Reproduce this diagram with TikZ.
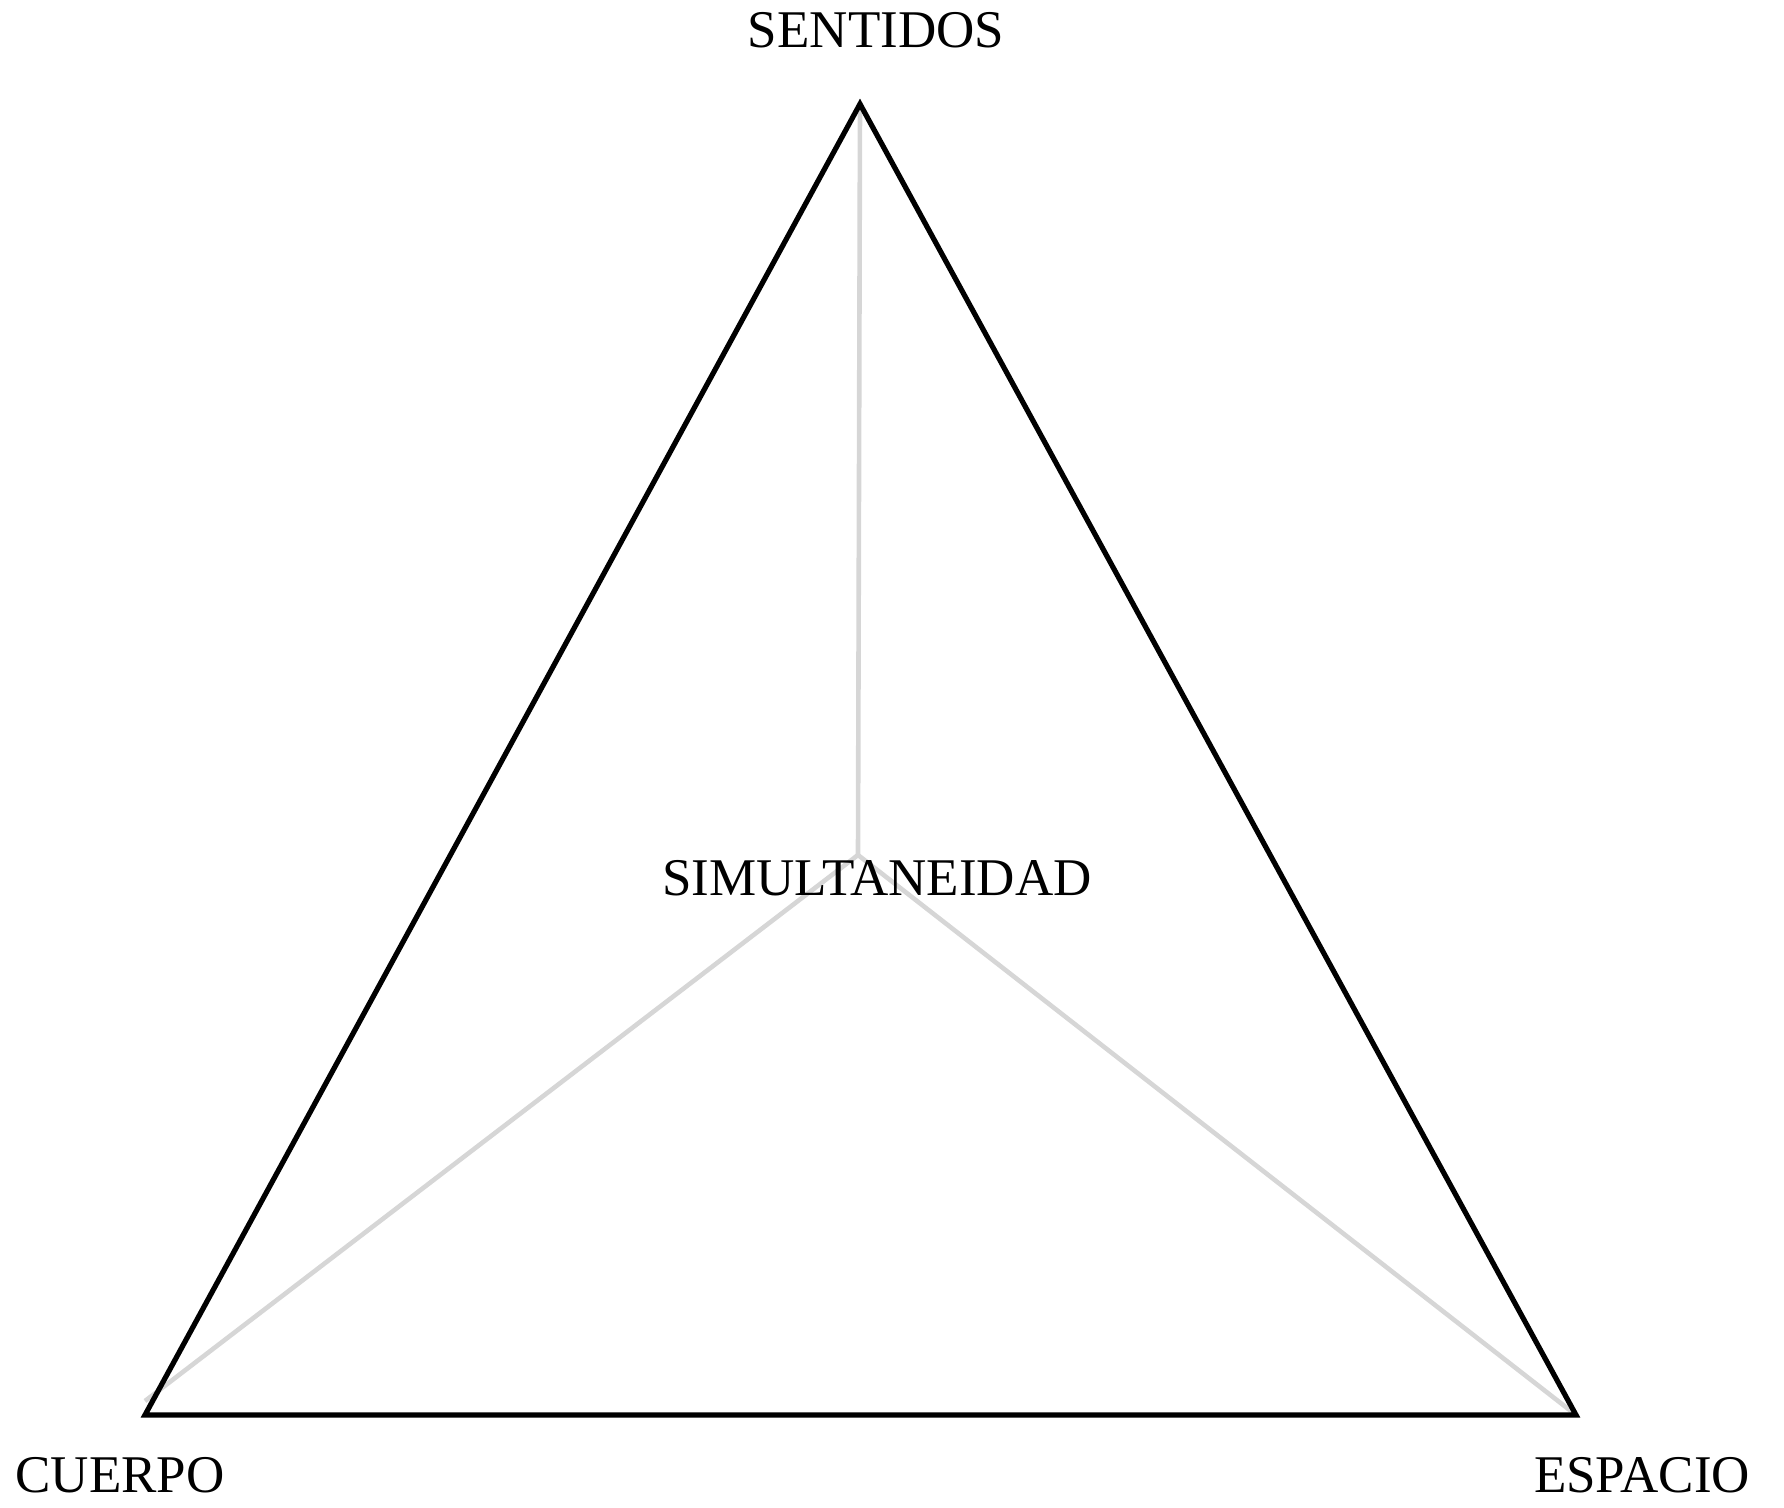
\documentclass[tikz,border=0pt]{standalone}
\usepackage{fontspec}
\setmainfont{Liberation Serif}
\usepackage{tikz}
\definecolor{spokegray}{rgb}{0.84,0.84,0.84}

\begin{document}
\begin{tikzpicture}[x=0.5pt,y=-0.5pt,
   lbl/.style={anchor=base,inner sep=0pt,font=\fontsize{26.5pt}{30pt}\selectfont},
   edge/.style={draw,line width=2.6pt},
   spoke/.style={draw=spokegray,line width=2.3pt}]
  \useasboundingbox (0,0) rectangle (1784,1508);
  % vertices
  \coordinate (top) at (860,104);
  \coordinate (left) at (145,1415);
  \coordinate (right) at (1576,1415);
  \coordinate (mid) at (858,855);
  \coordinate (leftend) at (145,1401);
  % spokes
  \draw[spoke] (mid) -- (top);
  \draw[spoke] (mid) -- (leftend);
  \draw[spoke] (mid) -- (right);
  % triangle
  \draw[edge] (top) -- (right) -- (left) -- cycle;
  % labels
  \node[lbl] (sentidos) at (876,48) {SENTIDOS};
  \node[lbl] (cuerpo) at (120,1492) {CUERPO};
  \node[lbl] (espacio) at (1642,1492) {ESPACIO};
  \node[lbl] (simul) at (877,895) {SIMULTANEIDAD};
\end{tikzpicture}
\end{document}
